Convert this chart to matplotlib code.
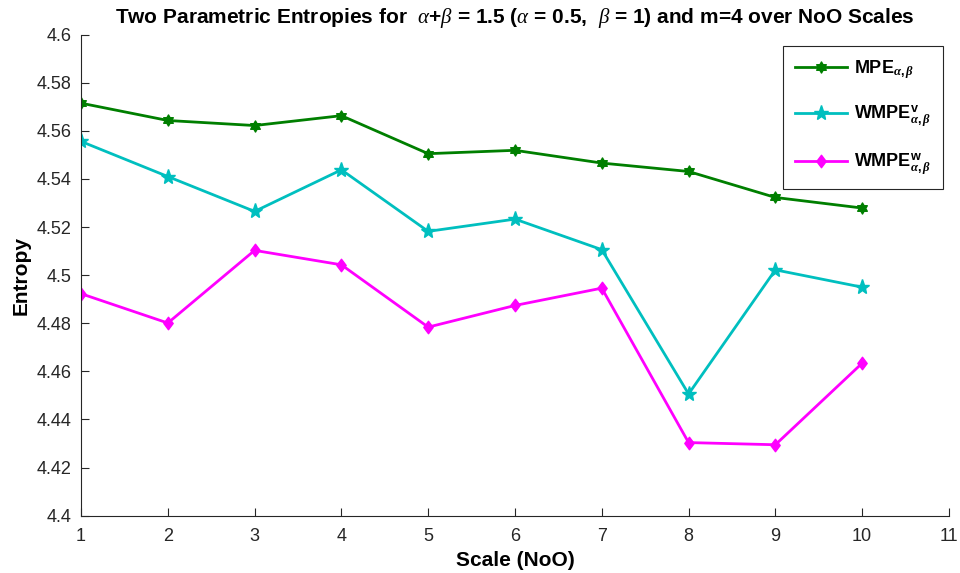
import matplotlib
matplotlib.use("Agg")
import matplotlib.pyplot as plt
from matplotlib.path import Path

plt.rcParams['font.family'] = ['Liberation Sans', 'DejaVu Sans']
plt.rcParams['mathtext.fontset'] = 'custom'
plt.rcParams['mathtext.rm'] = 'Liberation Sans:bold'
plt.rcParams['mathtext.bf'] = 'Liberation Sans:bold'
plt.rcParams['mathtext.it'] = 'Liberation Serif:italic'
plt.rcParams['mathtext.bfit'] = 'Liberation Serif:bold:italic'

##################################################
# data
scales = [1, 2, 3, 4, 5, 6, 7, 8, 9, 10]
mpe = [4.5715, 4.5643, 4.5622, 4.5663, 4.5505, 4.5519, 4.5466, 4.5431, 4.5323, 4.5279]
wmpe_v = [4.5556, 4.5410, 4.5265, 4.5438, 4.5182, 4.5233, 4.5106, 4.4506, 4.5022, 4.4950]
wmpe_w = [4.4923, 4.4801, 4.5103, 4.5043, 4.4784, 4.4874, 4.4946, 4.4304, 4.4295, 4.4634]
x_ticks = list(range(1, 12))
y_ticks = [4.4, 4.42, 4.44, 4.46, 4.48, 4.5, 4.52, 4.54, 4.56, 4.58, 4.6]
y_tick_labels = ['4.4', '4.42', '4.44', '4.46', '4.48', '4.5', '4.52', '4.54', '4.56', '4.58', '4.6']

# marker shapes like matlab's hexagram / pentagram / diamond
hexagram = Path.unit_regular_star(6, 0.57735)
diamond = Path([(0, 1), (0.75, 0), (0, -1), (-0.75, 0), (0, 1)],
               [Path.MOVETO, Path.LINETO, Path.LINETO, Path.LINETO, Path.CLOSEPOLY])

fig = plt.figure(figsize=(9.6, 5.73), dpi=100)
ax = fig.add_axes([0.0844, 0.100, 0.9041, 0.8396])

ax.plot(scales, mpe, color='#007F00', lw=2, marker=hexagram, ms=8,
        label=r'MPE$_{\boldsymbol{\alpha,\beta}}$')
ax.plot(scales, wmpe_v, color='#00BFBF', lw=2, marker='*', ms=11,
        label=r'WMPE$^{\mathbf{v}}_{\boldsymbol{\alpha,\beta}}$')
ax.plot(scales, wmpe_w, color='#FF00FF', lw=2, marker=diamond, ms=9,
        label=r'WMPE$^{\mathbf{w}}_{\boldsymbol{\alpha,\beta}}$')

ax.set_xlim(1, 11)
ax.set_ylim(4.4, 4.6)
ax.set_xticks(x_ticks)
ax.set_yticks(y_ticks)
ax.set_yticklabels(y_tick_labels)
ax.tick_params(direction='in', labelsize=13, colors='#262626', length=6, width=0.8)
ax.tick_params(axis='x', pad=9)
ax.tick_params(axis='y', pad=7)
for side in ['top', 'right']:
    ax.spines[side].set_visible(False)
for side in ['left', 'bottom']:
    ax.spines[side].set_color('#262626')
    ax.spines[side].set_linewidth(0.8)

ax.set_xlabel('Scale (NoO)', fontsize=15, fontweight='bold', labelpad=4)
ax.set_ylabel('Entropy', fontsize=15, fontweight='bold', labelpad=4)
ax.set_title(r'Two Parametric Entropies for  $\alpha$+$\beta$ = 1.5 ($\alpha$ = 0.5,  $\beta$ = 1) and m=4 over NoO Scales',
             fontsize=15, fontweight='bold', pad=8)

leg = ax.legend(loc='upper right', bbox_to_anchor=(0.993, 0.976), borderaxespad=0,
                frameon=True, fancybox=False, framealpha=1, labelspacing=1.25,
                handlelength=2.9, handletextpad=0.4, borderpad=0.65,
                prop={'weight': 'bold', 'size': 13})
leg.get_frame().set_edgecolor('#262626')
leg.get_frame().set_linewidth(0.8)

plt.savefig('out.png', dpi=100)
